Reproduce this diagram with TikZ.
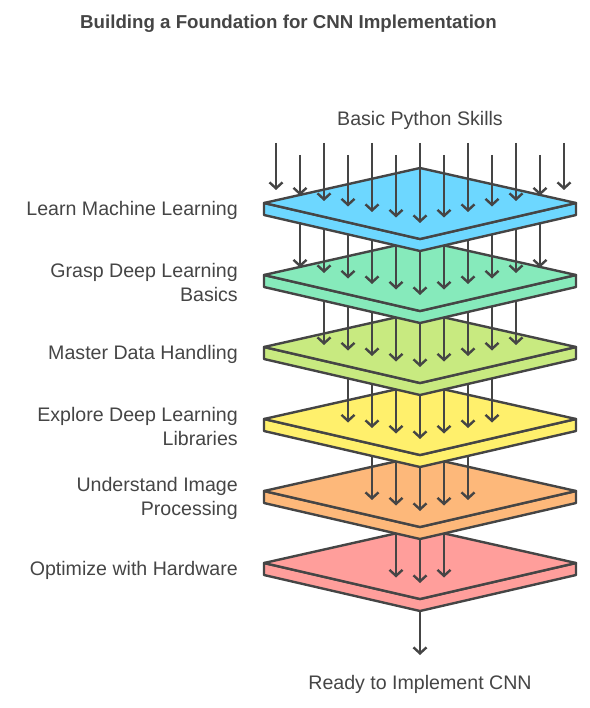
\documentclass[tikz,border=0pt]{standalone}
\usepackage{fontspec}
\setmainfont{Liberation Sans}
\usetikzlibrary{arrows.meta}
\definecolor{ink}{HTML}{454545}
\definecolor{layerA}{HTML}{6DD7FF}
\definecolor{layerB}{HTML}{86EABB}
\definecolor{layerC}{HTML}{C8EA80}
\definecolor{layerD}{HTML}{FFF06C}
\definecolor{layerE}{HTML}{FDB87A}
\definecolor{layerF}{HTML}{FF9E9B}
\begin{document}
\begin{tikzpicture}[x=1pt,y=-1pt,
legend/.style={anchor=east,align=right,inner sep=0pt,text=ink,font=\fontsize{19.6}{24}\selectfont},
goal/.style={text=ink,font=\fontsize{19.6}{24}\selectfont},
plate/.style={draw=ink,line width=2.4pt,line join=round},
drop/.style={draw=ink,line width=2.4pt,-{Straight Barb[length=6pt,width=13pt]}},
]
\useasboundingbox(0,0)rectangle(589,708);

%title
\node[text=ink,font=\bfseries\fontsize{18.7}{22}\selectfont](title)at(288.5,24){Building a Foundation for CNN Implementation};

%start - finish
\node[goal](python)at(420,120){Basic Python Skills};
\node[goal](ready)at(420,684){Ready to Implement CNN};

%layers, bottom first - arrows land on each one
\foreach \i/\col in {5/layerF,4/layerE,3/layerD,2/layerC,1/layerB,0/layerA}{
  \pgfmathsetmacro\y{203+72*\i}
  \path[plate,fill=\col](264,\y)--(420,\y+36)--(576,\y)--(576,\y+12)--(420,\y+48)--(264,\y+12)--cycle;
  \path[plate,fill=\col](264,\y)--(420,\y-35)--(576,\y)--(420,\y+36)--cycle;
  \pgfmathtruncatemacro\n{6-\i}
  \foreach \k in {-\n,...,\n}{
    \pgfmathtruncatemacro\kk{\k+6}
    \pgfmathsetmacro\ys{\i==0 ? (mod(\kk,2)==0 ? 143 : 155) : 203+72*(\i-1)}
    \pgfmathsetmacro\ye{\y+20-5.5*abs(\k)}
    \coordinate(s\i x\kk)at(420+24*\k,\ys);
    \coordinate(e\i x\kk)at(420+24*\k,\ye);
    \draw[drop](s\i x\kk)--(e\i x\kk);
  }
}

%output
\coordinate(base)at(420,611);
\coordinate(done)at(420,655);
\draw[drop](base)--(done);

%legend
\node[legend](ml)at(238,210){Learn Machine Learning};
\node[legend](dl)at(238,282){Grasp Deep Learning\\Basics};
\node[legend](data)at(238,354){Master Data Handling};
\node[legend](libs)at(238,426){Explore Deep Learning\\Libraries};
\node[legend](img)at(238,498){Understand Image\\Processing};
\node[legend](hw)at(238,570){Optimize with Hardware};

\end{tikzpicture}
\end{document}
